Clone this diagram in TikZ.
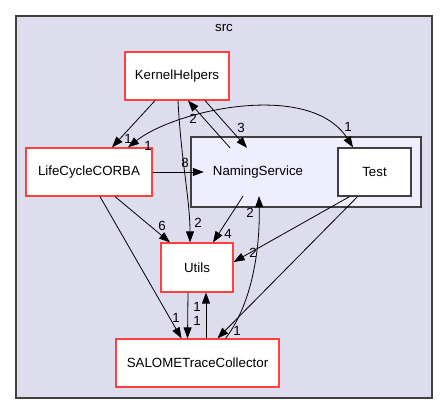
\documentclass[tikz,border=0pt]{standalone}
\usepackage{fontspec}
\setmainfont{Liberation Sans}
\usetikzlibrary{arrows.meta}
\definecolor{clusterfill}{HTML}{DDDDEE}
\definecolor{innerfill}{HTML}{EEEEFF}
\definecolor{frame}{HTML}{404040}
\definecolor{dirred}{HTML}{FF4040}

\begin{document}
\begin{tikzpicture}[x=1pt,y=-1pt,
    dirbox/.style={draw=dirred, fill=white, line width=1.2pt, minimum height=48pt, inner sep=0pt, font=\fontsize{13.3}{15}\selectfont},
    dep/.style={draw=black, line width=0.8pt, -{Triangle[length=11pt,width=8pt]}},
    depboth/.style={dep, {Triangle[length=11pt,width=8pt]}-{Triangle[length=11pt,width=8pt]}},
    lbl/.style={font=\fontsize{13.3}{15}\selectfont, inner sep=0pt}]

    \useasboundingbox (0,0) rectangle (448,415);

    % clusters
    \draw[draw=frame, fill=clusterfill, line width=1.2pt] (16,16) rectangle (432,398);
    \node[lbl] (src) at (224,28) {src};
    \draw[draw=frame, fill=innerfill, line width=1.2pt] (191,137) rectangle (421,207);

    % directories
    \node[dirbox, minimum width=104pt] (kh) at (177,76) {KernelHelpers};
    \node[dirbox, minimum width=126pt] (lc) at (89,172) {LifeCycleCORBA};
    \node[lbl, minimum width=108pt, minimum height=48pt] (ns) at (258,172) {NamingService};
    \node[dirbox, draw=frame, line width=1.3pt, minimum width=73pt] (test) at (374.5,172) {Test};
    \node[dirbox, minimum width=72pt, minimum height=49pt] (utils) at (197,267.5) {Utils};
    \node[dirbox, minimum width=163pt] (stc) at (197.5,363) {SALOMETraceCollector};

    % dependencies
    \draw[dep] ([xshift=-22pt]kh.south) -- ([xshift=23pt]lc.north) node[lbl] at (128,139) {1};
    \draw[dep] ([xshift=28pt]kh.south) -- ([xshift=-11pt]ns.north) node[lbl] at (241,128) {3};
    \draw[dep] ([xshift=-28pt]ns.north) -- ([xshift=11pt]kh.south) node[lbl] at (193,119) {2};
    \draw[dep] ([xshift=1pt]kh.south) .. controls (181,160) and (190,200) .. ([xshift=-7pt]utils.north) node[lbl] at (198,223) {2};
    \draw[dep] (lc.east) -- (ns.west) node[lbl] at (185,163) {8};
    % LifeCycleCORBA <-> Test share one curve
    \draw[depboth] ([xshift=39pt]lc.north) .. controls (175,110) and (310,80) .. ([xshift=-21.5pt]test.north)
        node[lbl] at (348,127) {1} node[lbl] at (148,146) {1};
    \draw[dep] ([xshift=26pt]lc.south) -- ([xshift=-27pt]utils.north) node[lbl] at (162,226) {6};
    \draw[dep] ([xshift=11pt]lc.south) -- ([xshift=-16pt]stc.north) node[lbl] at (176,318) {1};
    \draw[dep] ([xshift=-15pt]ns.south) -- ([xshift=16pt]utils.north) node[lbl] at (228,234) {4};
    \draw[dep] ([xshift=-25pt]test.south) -- ([yshift=5.5pt]utils.east) node[lbl] at (253,253) {2};
    \draw[dep] ([xshift=-17pt]test.south) -- ([xshift=20pt]stc.north) node[lbl] at (237,331) {1};
    \draw[dep] ([xshift=28pt]stc.north) .. controls (255,300) and (260,240) .. ([xshift=1pt]ns.south) node[lbl] at (250,213) {2};
    \draw[dep] ([xshift=-9pt]utils.south) -- ([xshift=-10pt]stc.north) node[lbl] at (197,321) {1};
    \draw[dep] ([xshift=8.5pt]stc.north) -- ([xshift=9pt]utils.south) node[lbl] at (197,307) {1};

\end{tikzpicture}
\end{document}
